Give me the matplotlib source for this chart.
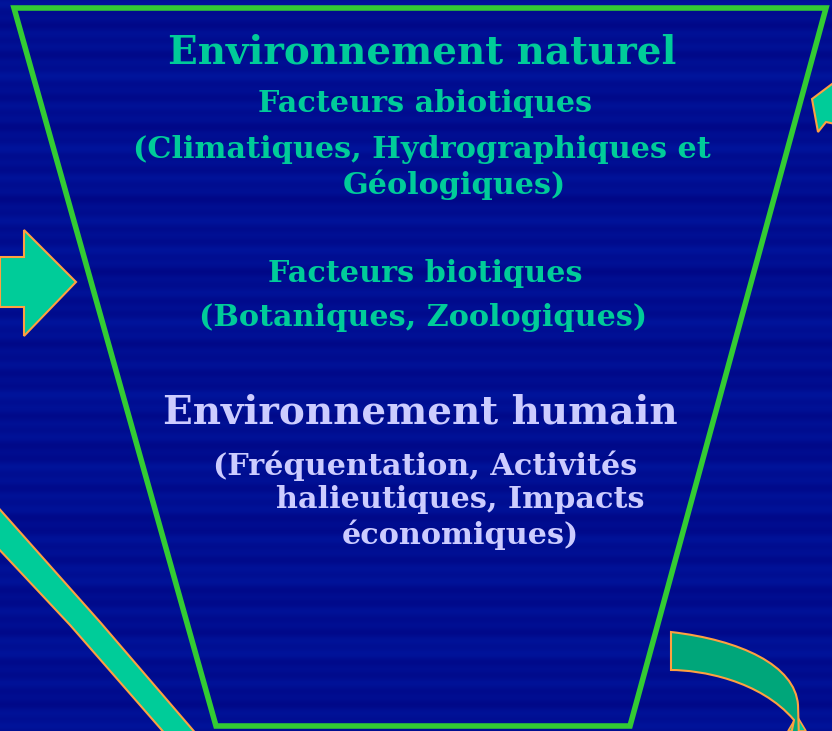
import matplotlib.pyplot as plt
from matplotlib.patches import Polygon, PathPatch
from matplotlib.path import Path
import numpy as np

# text lines: left x, center y, font size
natural_lines = ["Environnement naturel", "Facteurs abiotiques",
                 "(Climatiques, Hydrographiques et", "Géologiques)",
                 "Facteurs biotiques", "(Botaniques, Zoologiques)"]
natural_x = [168, 258, 133, 343, 268, 199]
natural_y = [52, 103, 150, 185, 273, 318]
natural_size = [28, 21.8, 21.8, 21.8, 21.8, 21.8]

human_lines = ["Environnement humain", "(Fréquentation, Activités",
               "halieutiques, Impacts", "économiques)"]
human_x = [163, 213, 276, 342]
human_y = [413, 466, 500, 535]
human_size = [28, 21.8, 21.8, 21.8]

# trapezoid corners
trap_x = [14, 826, 630, 216]
trap_y = [8, 8, 726, 726]

GREEN_TXT = "#00CC99"
LAV = "#CCCCFF"
ORANGE = "#FFA040"

fig = plt.figure(figsize=(8.32, 7.31), dpi=100)
ax = fig.add_axes([0, 0, 1, 1])
ax.set_xlim(0, 832)
ax.set_ylim(731, 0)
ax.axis("off")

# streaky blue background (decorative)
rows = np.arange(731)
stripe = (0.5 + 0.2 * np.sin(rows / 2.3) + 0.2 * np.sin(rows / 5.7 + 1.0)
          + 0.1 * np.sin(rows / 13.0 + 2.0))
bg = np.zeros((731, 1, 3))
bg[:, 0, 1] = 0.03 + 0.05 * stripe
bg[:, 0, 2] = 0.53 + 0.08 * stripe
ax.imshow(bg, extent=(0, 832, 731, 0), aspect="auto", zorder=0)

# arrows
left_arrow = [(0, 257), (24, 257), (24, 230), (76, 282), (24, 336), (24, 307), (0, 307)]
ax.add_patch(Polygon(left_arrow, closed=True, fc=GREEN_TXT, ec=ORANGE, lw=1.5, zorder=2))

tr_arrow = [(812, 99), (840, 78), (840, 125), (826, 122), (818, 132)]
ax.add_patch(Polygon(tr_arrow, closed=True, fc=GREEN_TXT, ec=ORANGE, lw=1.5, zorder=2))

band = [(-5, 504), (100, 622), (198, 736), (167, 736), (70, 625), (-5, 545)]
ax.add_patch(Polygon(band, closed=True, fc=GREEN_TXT, ec=ORANGE, lw=1.5, zorder=2))

verts = [(671, 632), (740, 640), (795, 665), (798, 705), (799, 740),
         (790, 740), (794, 720), (760, 680), (700, 670), (671, 670), (671, 632)]
codes = [Path.MOVETO, Path.CURVE4, Path.CURVE4, Path.CURVE4, Path.LINETO,
         Path.LINETO, Path.LINETO, Path.CURVE4, Path.CURVE4, Path.CURVE4, Path.CLOSEPOLY]
ax.add_patch(PathPatch(Path(verts, codes), fc="#00A67A", ec=ORANGE, lw=1.5, zorder=2))
ax.add_patch(Polygon([(788, 731), (797, 716), (806, 731)], closed=True,
                     fc=GREEN_TXT, ec=ORANGE, lw=1.2, zorder=1.9))

# trapezoid outline
ax.add_patch(Polygon(list(zip(trap_x, trap_y)), closed=True, fill=False,
                     ec="#33CC33", lw=4, zorder=3, joinstyle="miter"))

font = ["DejaVu Serif"]
for t, x, y, s in zip(natural_lines, natural_x, natural_y, natural_size):
    ax.text(x, y, t, ha="left", va="center", fontsize=s, fontweight="bold",
            color=GREEN_TXT, family=font, zorder=4)
for t, x, y, s in zip(human_lines, human_x, human_y, human_size):
    ax.text(x, y, t, ha="left", va="center", fontsize=s, fontweight="bold",
            color=LAV, family=font, zorder=4)

fig.savefig("out.png", dpi=100)
